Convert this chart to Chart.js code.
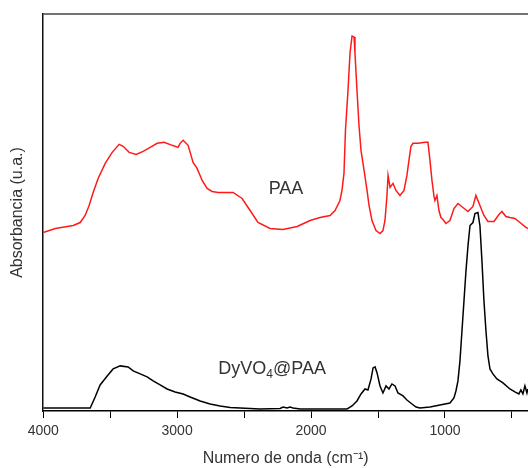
<!DOCTYPE html>
<html>
<head>
<meta charset="utf-8">
<script src="https://cdn.jsdelivr.net/npm/chart.js@4"></script>
<style>
  html, body { margin: 0; padding: 0; background: #fff; }
  canvas { display: block; }
</style>
</head>
<body>
<canvas id="ftir" width="528" height="468"></canvas>
<script>
// wavenumbers (cm-1) and absorbance (arbitrary units)
const paaWave = [4000, 3910, 3776, 3724, 3687, 3657, 3627, 3590, 3537, 3485, 3433, 3403, 3358, 3306, 3254, 3201,
  3149, 3097, 3037, 2993, 2978, 2955, 2918, 2896, 2881, 2851, 2813, 2776, 2739, 2694, 2582, 2515, 2455, 2396,
  2306, 2209, 2104, 2007, 1933, 1858, 1821, 1784, 1769, 1754, 1743, 1724, 1709, 1694, 1679, 1672, 1657, 1642,
  1627, 1604, 1582, 1567, 1545, 1515, 1485, 1463, 1448, 1433, 1425, 1410, 1388, 1366, 1336, 1306, 1284, 1269,
  1254, 1239, 1201, 1149, 1127, 1112, 1097, 1082, 1075, 1060, 1045, 1030, 1015, 993, 963, 933, 903, 866, 828,
  791, 769, 739, 709, 679, 634, 597, 575, 545, 515, 478, 440, 403, 381];
const paaAbs = [178, 182, 185, 188, 195, 205, 218, 232, 247, 258, 266, 264, 258, 256, 259, 263,
  267, 268, 265, 263, 267, 270, 265, 255, 248, 242, 230, 222, 219, 218, 218, 212, 200, 188,
  182, 181, 184, 190, 193, 195, 200, 210, 220, 237, 280, 320, 357, 374, 373, 357, 320, 285,
  260, 240, 220, 205, 190, 180, 177, 180, 190, 215, 235, 223, 227, 220, 215, 220, 235, 250,
  264, 267, 267, 268, 268, 250, 230, 214, 210, 215, 200, 193, 191, 187, 190, 202, 207, 203, 199,
  204, 215, 205, 195, 189, 189, 196, 199, 194, 193, 192, 188, 184, 182];

const dyWave = [4000, 3649, 3612, 3575, 3522, 3478, 3425, 3366, 3328, 3276, 3224, 3179, 3127, 3075, 3015, 2955,
  2903, 2828, 2754, 2679, 2604, 2381, 2231, 2209, 2179, 2157, 2134, 2082, 1731, 1694, 1657, 1627, 1597, 1575,
  1552, 1537, 1522, 1507, 1485, 1463, 1440, 1418, 1396, 1373, 1351, 1313, 1284, 1246, 1216, 1187, 1112, 1037,
  963, 933, 918, 903, 888, 873, 858, 843, 828, 813, 791, 776, 754, 739, 724, 709, 694, 679, 664, 642, 612,
  567, 515, 478, 448, 433, 418, 403, 388, 381];
const dyAbs = [3, 3, 14, 26, 35, 42, 45, 44, 40, 37, 34, 30, 26, 22, 19, 17,
  14, 10, 7, 5, 3.5, 2, 2.5, 4, 3, 4, 3, 2, 2, 5, 10, 17, 22, 21,
  32, 43, 44, 38, 25, 18, 25, 22, 27, 25, 18, 15, 11, 7, 4, 3, 4, 6,
  8, 13, 20, 30, 50, 80, 110, 140, 165, 185, 188, 197, 198, 185, 150, 110, 80, 55, 42, 37, 32,
  28, 22, 19, 17, 21, 17, 25, 18, 22];

const xTicks = [4000, 3500, 3000, 2500, 2000, 1500, 1000, 500];

const toPoints = (xs, ys) => xs.map((x, i) => ({ x: x, y: ys[i] }));
const FONT = '"Liberation Sans", Arial, sans-serif';

// top frame line + the two curve labels
const frameLabels = {
  id: 'frameLabels',
  afterDatasetsDraw(chart) {
    const { ctx, chartArea, scales } = chart;
    const x = scales.x, y = scales.y;
    ctx.save();
    ctx.strokeStyle = '#444';
    ctx.lineWidth = 1.5;
    ctx.beginPath();
    ctx.moveTo(chartArea.left, chartArea.top);
    ctx.lineTo(chartArea.right, chartArea.top);
    ctx.stroke();

    ctx.fillStyle = '#333';
    ctx.textBaseline = 'middle';
    ctx.font = '18px ' + FONT;
    ctx.textAlign = 'center';
    ctx.fillText('PAA', x.getPixelForValue(2187), y.getPixelForValue(221));

    // DyVO4@PAA with subscript 4
    const cx = x.getPixelForValue(2291), cy = y.getPixelForValue(42);
    ctx.textAlign = 'left';
    const big = '18px ' + FONT, small = '12px ' + FONT;
    ctx.font = big; const w1 = ctx.measureText('DyVO').width;
    ctx.font = small; const w2 = ctx.measureText('4').width;
    ctx.font = big; const w3 = ctx.measureText('@PAA').width;
    let sx = cx - (w1 + w2 + w3) / 2;
    ctx.fillText('DyVO', sx, cy);
    ctx.font = small; ctx.fillText('4', sx + w1, cy + 6);
    ctx.font = big; ctx.fillText('@PAA', sx + w1 + w2, cy);
    ctx.restore();
  }
};

new Chart(document.getElementById('ftir'), {
  type: 'line',
  data: {
    datasets: [
      { label: 'PAA', data: toPoints(paaWave, paaAbs), borderColor: '#ff1a1a', borderWidth: 1.5 },
      { label: 'DyVO4@PAA', data: toPoints(dyWave, dyAbs), borderColor: '#000', borderWidth: 1.5 }
    ]
  },
  options: {
    responsive: false,
    animation: false,
    events: [],
    elements: { point: { radius: 0 }, line: { tension: 0 } },
    layout: { padding: { top: 14, left: 8, right: 0, bottom: 0 } },
    plugins: { legend: { display: false }, tooltip: { enabled: false } },
    scales: {
      x: {
        type: 'linear',
        reverse: true,
        min: 380,
        max: 4000,
        afterBuildTicks: (scale) => { scale.ticks = xTicks.map(v => ({ value: v })); },
        ticks: {
          color: '#333',
          font: { family: FONT, size: 14 },
          padding: 5,
          maxRotation: 0,
          autoSkip: false,
          callback: (v) => (v % 1000 === 0 ? String(v) : '')
        },
        grid: { drawOnChartArea: false, drawTicks: true, tickLength: 7, color: '#000', lineWidth: 1 },
        border: { display: true, color: '#000', width: 1.5 },
        title: {
          display: true,
          text: 'Numero de onda (cm\u207B\u00B9)',
          color: '#333',
          font: { family: FONT, size: 16 },
          padding: { top: 4, bottom: 0 }
        }
      },
      y: {
        min: 0,
        max: 396,
        ticks: { display: false },
        grid: { display: false, drawTicks: false },
        border: { display: true, color: '#111', width: 1.5 },
        title: {
          display: true,
          text: 'Absorbancia (u.a.)',
          color: '#333',
          font: { family: FONT, size: 16 },
          padding: { top: 0, bottom: 16 }
        }
      }
    }
  },
  plugins: [frameLabels]
});
</script>
</body>
</html>
